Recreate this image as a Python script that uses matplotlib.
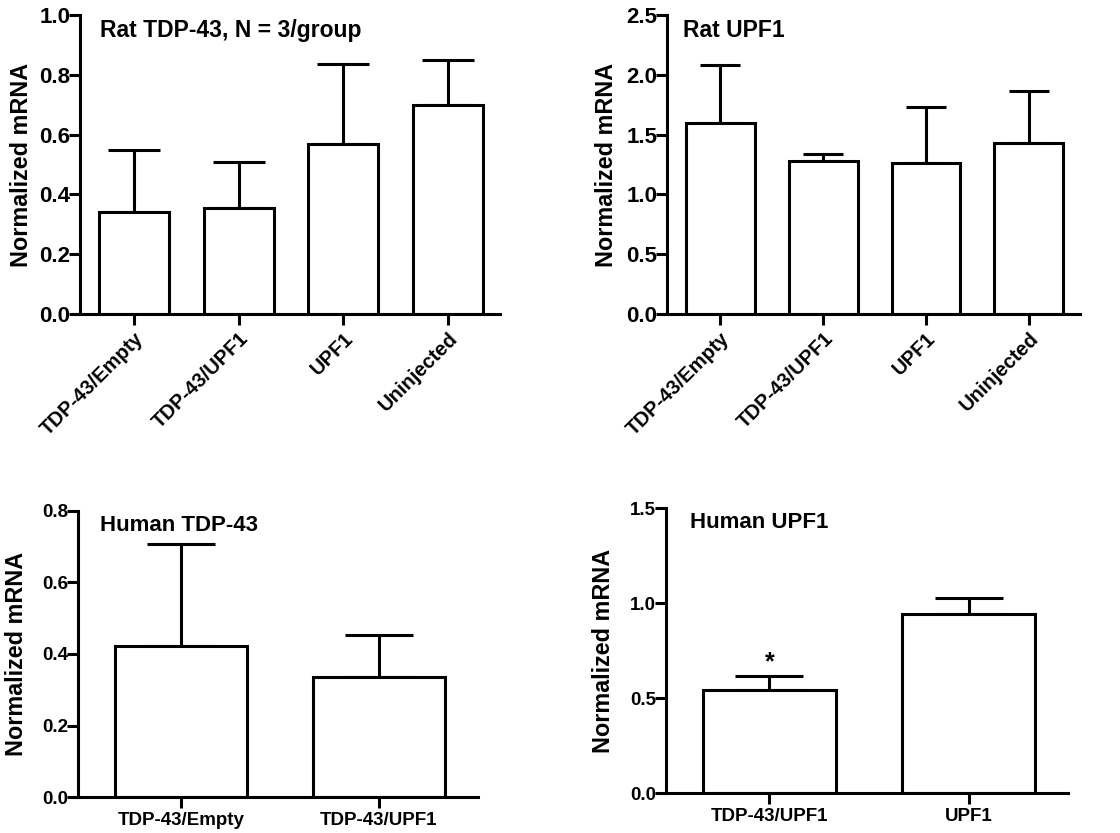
import numpy as np
import matplotlib.pyplot as plt

plt.rcParams['font.family'] = ['Liberation Sans', 'DejaVu Sans']

# Rat TDP-43
rat_groups = ['TDP-43/Empty', 'TDP-43/UPF1', 'UPF1', 'Uninjected']
rat_tdp_mean = [0.342, 0.353, 0.567, 0.700]
rat_tdp_err = [0.205, 0.157, 0.268, 0.150]

# Rat UPF1
rat_upf_mean = [1.595, 1.277, 1.262, 1.428]
rat_upf_err = [0.488, 0.062, 0.470, 0.440]

# Human TDP-43
hum_tdp_groups = ['TDP-43/Empty', 'TDP-43/UPF1']
hum_tdp_mean = [0.422, 0.336]
hum_tdp_err = [0.286, 0.117]

# Human UPF1
hum_upf_groups = ['TDP-43/UPF1', 'UPF1']
hum_upf_mean = [0.544, 0.942]
hum_upf_err = [0.074, 0.084]

fig = plt.figure(figsize=(11.2, 8.33), dpi=100)

lw = 2.2

def panel(rect, groups, mean, err, ymax, yticks, title, rotate, cap, ysize, xsize, tsize, tx, ylx):
    ax = fig.add_axes(rect)
    x = np.arange(len(groups))
    ax.bar(x, mean, width=0.67, color='white', edgecolor='black', linewidth=lw, zorder=2)
    ax.errorbar(x, mean, yerr=[np.zeros(len(x)), err], fmt='none', ecolor='black',
                elinewidth=lw, capsize=cap, capthick=lw, zorder=1)
    ax.set_xlim(-0.52, len(groups) - 0.5)
    ax.set_ylim(0, ymax)
    ax.set_yticks(yticks)
    ax.set_yticklabels(['%.1f' % v for v in yticks], fontweight='bold', fontsize=ysize)
    ax.set_xticks(x)
    if rotate:
        ax.set_xticklabels(groups, rotation=45, ha='right', rotation_mode='anchor',
                           fontsize=xsize, fontweight='bold')
    else:
        ax.set_xticklabels(groups, fontsize=xsize, fontweight='bold')
    for s in ['top', 'right']:
        ax.spines[s].set_visible(False)
    for s in ['left', 'bottom']:
        ax.spines[s].set_linewidth(lw)
    ax.spines['bottom'].set_bounds(-0.52 - 0.05 * len(groups) / 4, len(groups) - 0.5)
    ax.tick_params(axis='both', width=lw, length=8)
    ax.tick_params(axis='y', pad=-1)
    ax.tick_params(axis='x', pad=3)
    ax.set_ylabel('Normalized mRNA', fontsize=16.8, fontweight='bold')
    ax.yaxis.set_label_coords(ylx, 0.5)
    ax.text(tx, 0.985, title, transform=ax.transAxes, fontsize=tsize,
            fontweight='bold', va='top', ha='left')
    return ax

ax1 = panel([0.0714, 0.623, 0.375, 0.359], rat_groups, rat_tdp_mean, rat_tdp_err,
            1.0, [0.0, 0.2, 0.4, 0.6, 0.8, 1.0], 'Rat TDP-43, N = 3/group', True,
            19, 16, 14.5, 16.5, 0.048, -0.112)
ax2 = panel([0.5955, 0.623, 0.369, 0.359], rat_groups, rat_upf_mean, rat_upf_err,
            2.5, [0.0, 0.5, 1.0, 1.5, 2.0, 2.5], 'Rat UPF1', True,
            14.5, 16, 14.5, 16.5, 0.039, -0.119)
ax3 = panel([0.0696, 0.0432, 0.357, 0.3434], hum_tdp_groups, hum_tdp_mean, hum_tdp_err,
            0.8, [0.0, 0.2, 0.4, 0.6, 0.8], 'Human TDP-43', False,
            24.5, 13.5, 13.5, 16, 0.055, -0.125)
ax4 = panel([0.5946, 0.048, 0.359, 0.342], hum_upf_groups, hum_upf_mean, hum_upf_err,
            1.5, [0.0, 0.5, 1.0, 1.5], 'Human UPF1', False,
            24.5, 13.5, 13.5, 16, 0.06, -0.127)

# significance mark
ax4.text(0, hum_upf_mean[0] + hum_upf_err[0] + 0.005, '*', ha='center', va='bottom',
         fontsize=18, fontweight='bold')

fig.savefig('out.png', dpi=100)
